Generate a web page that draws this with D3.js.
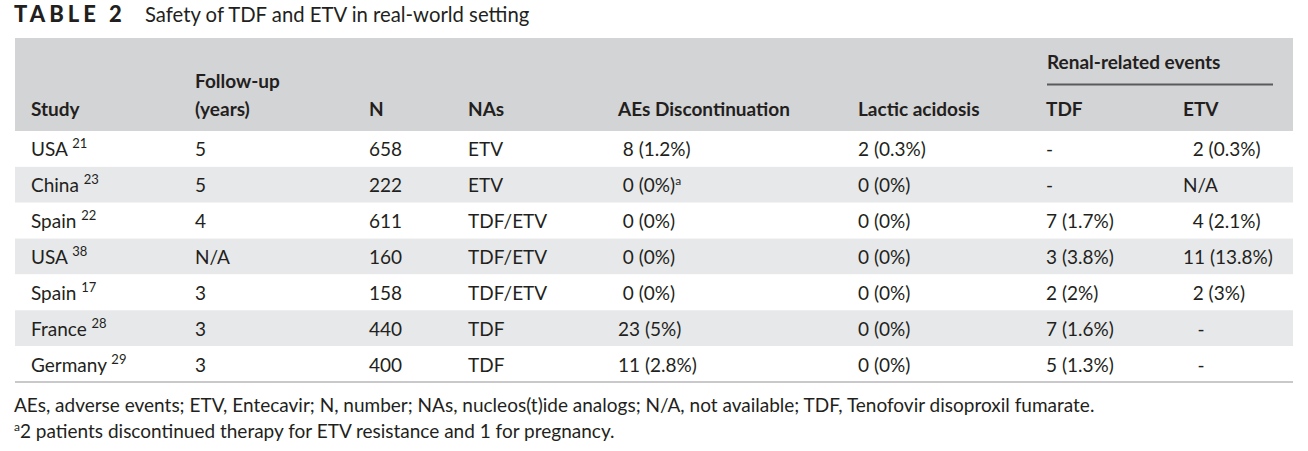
<!DOCTYPE html>
<html>
<head>
<meta charset="utf-8">
<script src="https://cdn.jsdelivr.net/npm/d3@7"></script>
<style>
  html, body { margin: 0; padding: 0; background: #fff; }
  svg text { font-family: Lato, "Open Sans", sans-serif; fill: #231f20; white-space: pre; }
</style>
</head>
<body>
<svg id="chart" width="1308" height="451"></svg>
<script>
// ---- data ----
const titleLabel = "TABLE 2";
const titleText = "Safety of TDF and ETV in real-world setting";
const columns = ["Study", "Follow-up|(years)", "N", "NAs", "AEs Discontinuation", "Lactic acidosis", "TDF", "ETV"];
const groupLabel = "Renal-related events";
const studies = ["USA", "China", "Spain", "USA", "Spain", "France", "Germany"];
const refs = ["21", "23", "22", "38", "17", "28", "29"];
const followUp = ["5", "5", "4", "N/A", "3", "3", "3"];
const nValues = ["658", "222", "611", "160", "158", "440", "400"];
const nas = ["ETV", "ETV", "TDF/ETV", "TDF/ETV", "TDF/ETV", "TDF", "TDF"];
const aesDisc = [" 8 (1.2%)", " 0 (0%)", " 0 (0%)", " 0 (0%)", " 0 (0%)", "23 (5%)", "11 (2.8%)"];
const aesNote = ["", "a", "", "", "", "", ""];
const lactic = ["2 (0.3%)", "0 (0%)", "0 (0%)", "0 (0%)", "0 (0%)", "0 (0%)", "0 (0%)"];
const renalTDF = ["-", "-", "7 (1.7%)", "3 (3.8%)", "2 (2%)", "7 (1.6%)", "5 (1.3%)"];
const renalETV = ["  2 (0.3%)", "N/A", "  4 (2.1%)", "11 (13.8%)", "  2 (3%)", "   -", "   -"];
const footnotes = [
  {sup: "", text: "AEs, adverse events; ETV, Entecavir; N, number; NAs, nucleos(t)ide analogs; N/A, not available; TDF, Tenofovir disoproxil fumarate."},
  {sup: "a", text: "2 patients discontinued therapy for ETV resistance and 1 for pregnancy."}
];

// ---- layout ----
const svg = d3.select("#chart");
const tableLeft = 15, tableRight = 1293;
const headerTop = 38, headerBottom = 131;
const colX = [31, 195, 369, 468, 618, 858, 1046, 1183];
const fs = 19;

const rowScale = d3.scaleBand().domain(d3.range(studies.length)).range([headerBottom, 382]).padding(0);

// title
svg.append("text").attr("x", 14).attr("y", 22).style("font-size", "22px")
  .attr("font-weight", 900).style("letter-spacing", "4px").text(titleLabel);
svg.append("text").attr("x", 145).attr("y", 22).style("font-size", "20.3px").text(titleText);

// header background
svg.append("rect").attr("x", tableLeft).attr("y", headerTop)
  .attr("width", tableRight - tableLeft).attr("height", headerBottom - headerTop)
  .attr("fill", "#d3d4d6");

// row backgrounds
svg.selectAll("rect.row").data(d3.range(studies.length)).join("rect")
  .attr("class", "row")
  .attr("x", tableLeft).attr("width", tableRight - tableLeft)
  .attr("y", i => rowScale(i)).attr("height", rowScale.bandwidth())
  .attr("fill", i => i % 2 === 1 ? "#e7e8ea" : "#ffffff");

// bottom rule
svg.append("line").attr("x1", tableLeft).attr("x2", tableRight)
  .attr("y1", 382).attr("y2", 382).attr("stroke", "#c9c9cb").attr("stroke-width", 2);

// header labels
columns.forEach((c, i) => {
  const parts = c.split("|");
  parts.forEach((p, j) => {
    svg.append("text").attr("x", colX[i]).attr("y", 116 - (parts.length - 1 - j) * 28)
      .attr("font-weight", 700).style("font-size", fs + "px").text(p);
  });
});
svg.append("text").attr("x", 1047).attr("y", 69).attr("font-weight", 700)
  .style("font-size", fs + "px").text(groupLabel);
svg.append("line").attr("x1", 1047).attr("x2", 1273).attr("y1", 84.5).attr("y2", 84.5)
  .attr("stroke", "#5a5a5c").attr("stroke-width", 2);

// body cells
const baseOff = 7.5;
const body = svg.append("g");
const rowsG = body.selectAll("g.r").data(d3.range(studies.length)).join("g")
  .attr("class", "r")
  .attr("transform", i => `translate(0,${rowScale(i) + rowScale.bandwidth() / 2 + baseOff})`);

// study with superscript ref
rowsG.append("text").attr("x", colX[0]).style("font-size", fs + "px")
  .each(function(i) {
    const t = d3.select(this);
    t.append("tspan").text(studies[i] + " ");
    t.append("tspan").attr("dy", -8).style("font-size", "13px").text(refs[i]);
  });

const simpleCols = [followUp, nValues, nas];
simpleCols.forEach((arr, k) => {
  rowsG.append("text").attr("x", colX[k + 1]).style("font-size", fs + "px").text(i => arr[i]);
});
rowsG.append("text").attr("x", colX[4]).style("font-size", fs + "px")
  .each(function(i) {
    const t = d3.select(this);
    t.append("tspan").text(aesDisc[i]);
    if (aesNote[i]) t.append("tspan").attr("dy", -7).style("font-size", "12px").text(aesNote[i]);
  });
[lactic, renalTDF, renalETV].forEach((arr, k) => {
  rowsG.append("text").attr("x", colX[k + 5]).style("font-size", fs + "px").text(i => arr[i]);
});

// footnotes
footnotes.forEach((f, i) => {
  const t = svg.append("text").attr("x", 14).attr("y", 412 + i * 26).style("font-size", fs + "px");
  if (f.sup) t.append("tspan").attr("dy", -7).style("font-size", "12px").text(f.sup);
  t.append("tspan").attr("dy", f.sup ? 7 : 0).text(f.text);
});
</script>
</body>
</html>
